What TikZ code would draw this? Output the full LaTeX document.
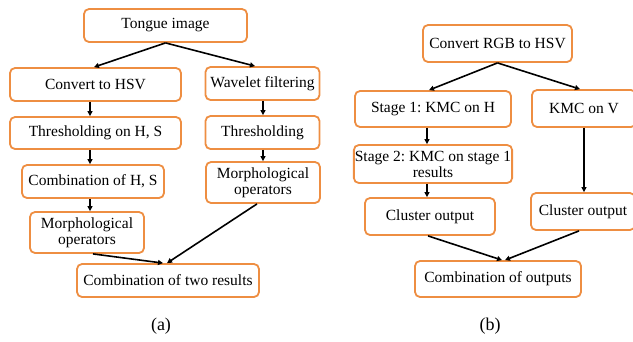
\documentclass[tikz,border=0pt]{standalone}
\usepackage{fontspec}
\setmainfont{Liberation Serif}
\usetikzlibrary{arrows.meta}
\definecolor{boxorange}{RGB}{238,142,66}
\frenchspacing
\begin{document}
\begin{tikzpicture}[x=1pt,y=-1pt,
  box/.style={draw=boxorange,line width=1.8pt,rounded corners=5pt,fill=white,
    inner sep=1pt,align=center,font=\fontsize{15.5}{17}\selectfont},
  arr/.style={-{Triangle[length=5pt,width=5pt]},line width=1.6pt,black}]
\useasboundingbox (0,0) rectangle (633,341);
% (a)
\node[box,minimum width=163pt,minimum height=33pt] (t) at (165.5,25.5) {Tongue image};
\node[box,minimum width=171pt,minimum height=33pt] (c) at (95.5,84.5) {Convert to HSV};
\node[box,minimum width=114pt,minimum height=33pt] (w) at (262.5,83.5) {Wavelet filtering};
\node[box,minimum width=171pt,minimum height=32pt] (th) at (95.5,133) {Thresholding on H, S};
\node[box,minimum width=114pt,minimum height=33pt] (th2) at (262.5,132.5) {Thresholding};
\node[box,minimum width=142pt,minimum height=33pt] (cb) at (93,181.5) {Combination of H, S};
\node[box,minimum width=114pt,minimum height=41pt] (mr) at (263,182.5) {Morphological\\[-1pt]operators};
\node[box,minimum width=114pt,minimum height=41pt] (ml) at (87,232.5) {Morphological\\[-1pt]operators};
\node[box,minimum width=182pt,minimum height=33pt] (ct) at (168,280.5) {Combination of two results};
\node[font=\fontsize{18}{19}\selectfont] (ca) at (161,326) {(a)};
\draw[arr] (t.south) -- (c.north -| 94,0);
\draw[arr] (t.south) -- (w.north -| 255,0);
\draw[arr] (c.south -| 90,0) -- (th.north -| 90,0);
\draw[arr] (th.south -| 90,0) -- (cb.north -| 90,0);
\draw[arr] (cb.south -| 90,0) -- (ml.north -| 90,0);
\draw[arr] (w.south -| 263,0) -- (th2.north -| 263,0);
\draw[arr] (th2.south -| 263,0) -- (mr.north -| 263,0);
\draw[arr] (ml.south -| 93,0) -- (ct.north -| 163,0);
\draw[arr] (mr.south -| 257,0) -- (ct.north -| 167,0);
% (b)
\node[box,minimum width=149pt,minimum height=37pt] (rgb) at (497.5,43.5) {Convert RGB to HSV};
\node[box,minimum width=156pt,minimum height=36pt] (s1) at (433,109) {Stage 1: KMC on H};
\node[box,minimum width=104pt,minimum height=37pt] (kv) at (584,108.5) {KMC on V};
\node[box,minimum width=156pt,minimum height=38pt] (s2) at (433,164) {Stage 2: KMC on stage 1\\[-1pt]results};
\node[box,minimum width=130pt,minimum height=37pt] (co1) at (430,216.5) {Cluster output};
\node[box,minimum width=104pt,minimum height=37pt] (co2) at (583,211.5) {Cluster output};
\node[box,minimum width=166pt,minimum height=36pt] (cbo) at (498,279) {Combination of outputs};
\node[font=\fontsize{18}{19}\selectfont] (cbb) at (490,326) {(b)};
\draw[arr] (rgb.south) -- (s1.north -| 429,0);
\draw[arr] (rgb.south) -- (kv.north -| 580,0);
\draw[arr] (s1.south -| 427,0) -- (s2.north -| 427,0);
\draw[arr] (s2.south -| 427,0) -- (co1.north -| 427,0);
\draw[arr] (kv.south -| 584,0) -- (co2.north -| 584,0);
\draw[arr] (co1.south -| 428,0) -- (cbo.north -| 502,0);
\draw[arr] (co2.south -| 579,0) -- (cbo.north -| 505,0);
\end{tikzpicture}
\end{document}
